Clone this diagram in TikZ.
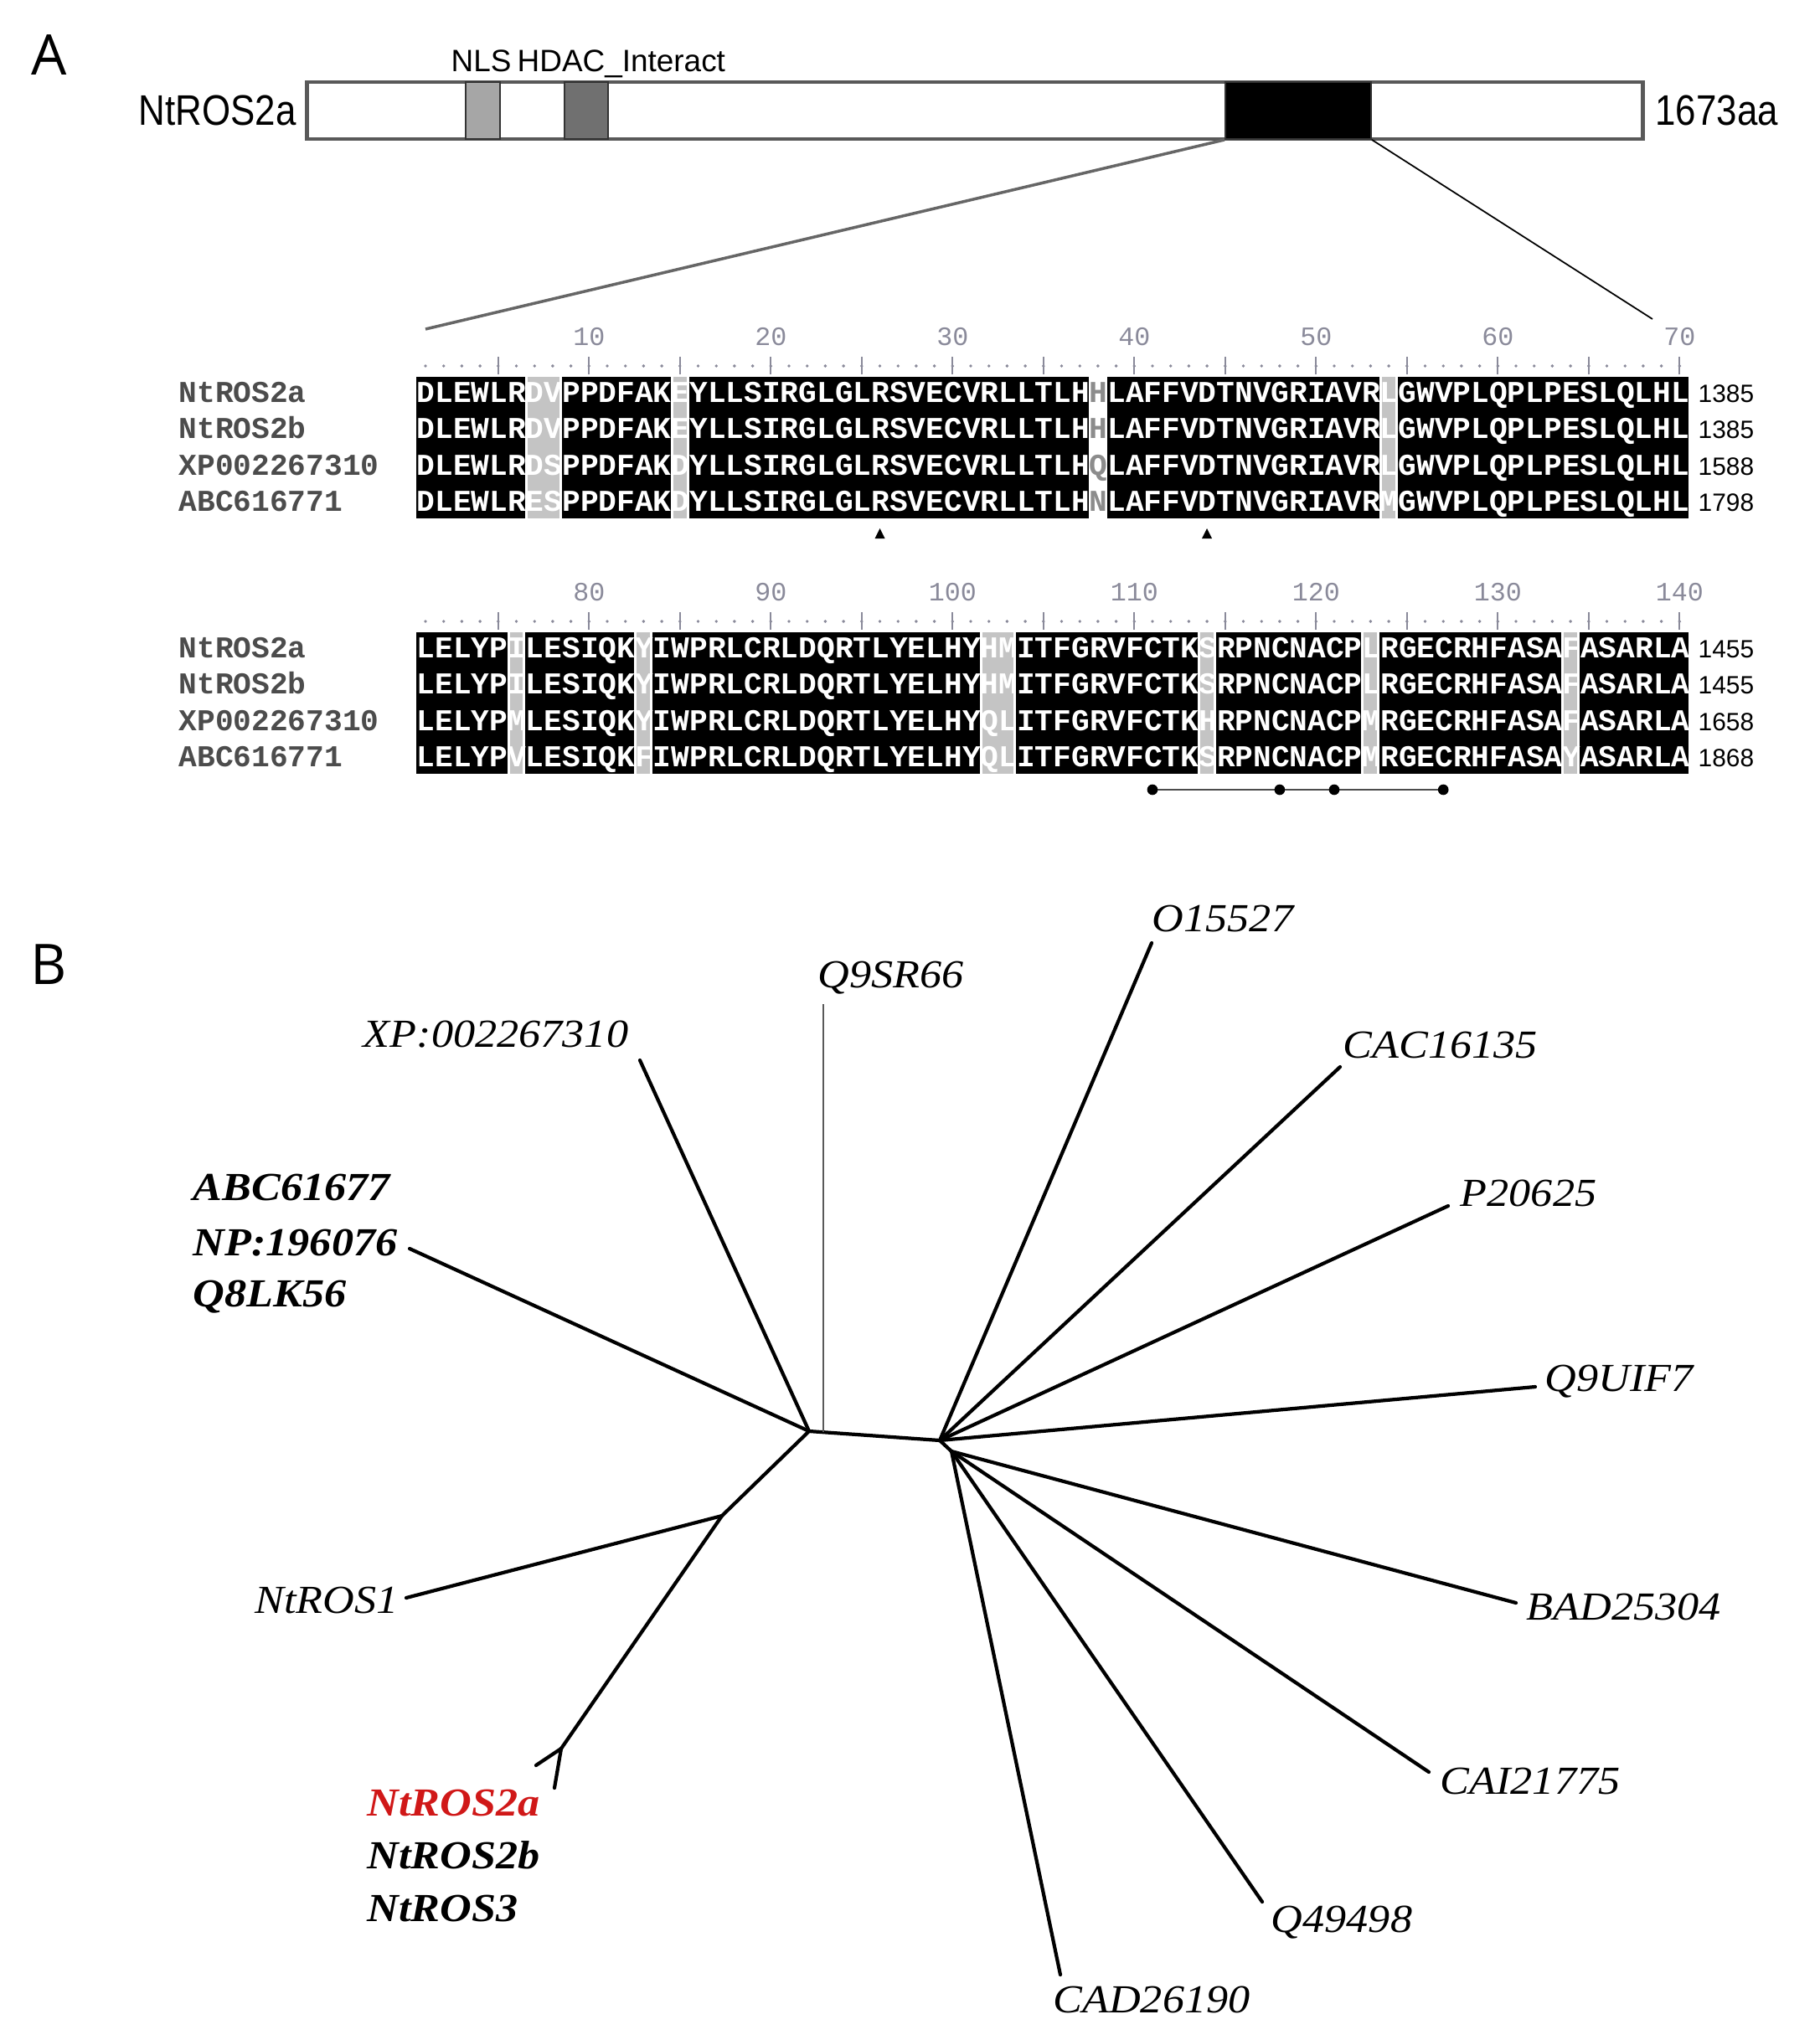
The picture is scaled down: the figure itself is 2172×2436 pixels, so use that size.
\documentclass[tikz,border=0pt]{standalone}
\usepackage{fontspec}
\setmainfont{Liberation Serif}
\newfontfamily\alnfont{Liberation Mono}
\newfontfamily\labsans{Liberation Sans}
\newfontfamily\narrowsans[FakeStretch=0.86]{Liberation Sans}
\newfontfamily\panelfont{Open Sans}
\newfontfamily\treefont[FakeStretch=1.1]{Liberation Serif}
\usepackage{tikz}
\usetikzlibrary{positioning}
\usepackage{xcolor}
\definecolor{shadegray}{HTML}{C4C4C4}
\definecolor{rulegray}{HTML}{8A8A9A}
\definecolor{nlsgray}{HTML}{A6A6A6}
\definecolor{hdacgray}{HTML}{707070}
\definecolor{ros2red}{HTML}{D01818}

\begin{document}
\begin{tikzpicture}[x=0.01cm, y=-0.01cm,
    panel/.style={font=\panelfont\fontsize{19}{22}\selectfont, inner sep=0},
    protbar/.style={draw=black!65, line width=1.3pt, fill=white, minimum height=0.68cm, inner sep=0},
    domainbox/.style={draw=black!80, line width=0.5pt, minimum height=0.68cm, inner sep=0},
    dlabel/.style={font=\labsans\fontsize{10.5}{12}\selectfont, inner sep=0, anchor=base west},
    pname/.style={font=\narrowsans\fontsize{14.5}{16}\selectfont, inner sep=0},
    rowname/.style={font=\alnfont\bfseries\fontsize{10.29}{12}\selectfont, text=black!70, inner sep=0, anchor=base west},
    seqtext/.style={font=\alnfont\bfseries\fontsize{10.29}{12}\selectfont, text=white, inner sep=0, anchor=base west},
    oddres/.style={font=\alnfont\bfseries\fontsize{10.29}{12}\selectfont, text=black!45, inner sep=0, anchor=base},
    endnum/.style={font=\labsans\fontsize{8.5}{10}\selectfont, inner sep=0, anchor=base west},
    rulenum/.style={font=\alnfont\fontsize{9}{10}\selectfont, text=rulegray, inner sep=0},
    branch/.style={line width=1.2pt, line cap=round},
    leaf/.style={font=\treefont\itshape\fontsize{13.5}{16}\selectfont, inner sep=0},
    boldleaf/.style={font=\treefont\bfseries\itshape\fontsize{13.5}{16}\selectfont, inner sep=0},
]
\useasboundingbox (0,0) rectangle (2172,2436);

% Panel letters
\node[panel] (pa) at (59,66) {A};
\node[panel] (pb) at (58,1152) {B};

% Protein
\node[protbar, minimum width=15.94cm] (bar) at (1164,132) {};
\node[domainbox, fill=nlsgray, minimum width=0.41cm] (nls) at (576.5,132) {};
\node[domainbox, fill=hdacgray, minimum width=0.52cm] (hdac) at (700,132) {};
\node[domainbox, fill=black, minimum width=1.74cm] (dna) at (1550,132) {};
\node[dlabel] (nlslab) at (538,85) {NLS};
\node[dlabel] (hdaclab) at (617,85) {HDAC\_Interact};
\node[pname, left=0.1cm of bar] (pnm) {NtROS2a};
\node[pname, right=0.12cm of bar] (plen) {1673aa};

% Zoom lines
\coordinate (zl) at (508,393);
\coordinate (zr) at (1973,381);
\draw[black!60, line width=1pt] (dna.south west) -- (zl);
\draw[black, line width=0.5pt] (dna.south east) -- (zr);

% Alignment shading
\foreach \a/\b in {1/6,9/14,16/37,39/53,55/70}
  \fill[black] ({497+(\a-1)*21.7},450) rectangle ({497+\b*21.7},619);
\foreach \a/\b in {7/8,15/15,54/54}
  \fill[shadegray] ({497+(\a-1)*21.7+3},450) rectangle ({497+\b*21.7-3},619);
\foreach \a/\b in {1/5,7/12,14/31,34/43,45/52,54/63,65/70}
  \fill[black] ({497+(\a-1)*21.7},755) rectangle ({497+\b*21.7},924);
\foreach \a/\b in {6/6,13/13,32/33,44/44,53/53,64/64}
  \fill[shadegray] ({497+(\a-1)*21.7+3},755) rectangle ({497+\b*21.7-3},924);

% Rulers
\foreach \yo/\first in {0/0,305/70} {
  \foreach \c in {1,...,70}
    \fill[rulegray] ({508+(\c-1)*21.7},{437+\yo}) circle[radius=0.55pt];
  \foreach \c in {5,10,...,70}
    \draw[rulegray, line width=0.55pt] ({508+(\c-1)*21.7},{426+\yo}) -- ({508+(\c-1)*21.7},{447+\yo});
  \foreach \c in {10,20,...,70} {
    \pgfmathtruncatemacro{\num}{\first+\c}
    \node[rulenum] (num\num) at ({508+(\c-1)*21.7},{402+\yo}) {\num};
  }
}

% Block 1
\foreach \nm/\sqa/\mid/\sqb/\len [count=\i] in {
    NtROS2a/DLEWLRDVPPDFAKEYLLSIRGLGLRSVECVRLLTLH/H/LAFFVDTNVGRIAVRLGWVPLQPLPESLQLHL/1385,
    NtROS2b/DLEWLRDVPPDFAKEYLLSIRGLGLRSVECVRLLTLH/H/LAFFVDTNVGRIAVRLGWVPLQPLPESLQLHL/1385,
    XP002267310/DLEWLRDSPPDFAKDYLLSIRGLGLRSVECVRLLTLH/Q/LAFFVDTNVGRIAVRLGWVPLQPLPESLQLHL/1588,
    ABC616771/DLEWLRESPPDFAKDYLLSIRGLGLRSVECVRLLTLH/N/LAFFVDTNVGRIAVRMGWVPLQPLPESLQLHL/1798} {
  \pgfmathsetmacro{\yb}{480+(\i-1)*43.5}
  \node[rowname] (na\i) at (213,\yb) {\nm};
  \node[seqtext] (sa\i) at (497,\yb) {\sqa};
  \node[oddres] (oa\i) at ({508+37*21.7},\yb) {\mid};
  \node[seqtext] (ta\i) at ({497+38*21.7},\yb) {\sqb};
  \node[endnum] (ea\i) at (2027,\yb) {\len};
}
\foreach \c in {26,44}
  \fill ({508+(\c-1)*21.7},631) -- ++(-6,12) -- ++(12,0) -- cycle;

% Block 2
\foreach \nm/\sq/\len [count=\i] in {
    NtROS2a/LELYPILESIQKYIWPRLCRLDQRTLYELHYHMITFGRVFCTKSRPNCNACPLRGECRHFASAFASARLA/1455,
    NtROS2b/LELYPILESIQKYIWPRLCRLDQRTLYELHYHMITFGRVFCTKSRPNCNACPLRGECRHFASAFASARLA/1455,
    XP002267310/LELYPMLESIQKYIWPRLCRLDQRTLYELHYQLITFGRVFCTKHRPNCNACPMRGECRHFASAFASARLA/1658,
    ABC616771/LELYPVLESIQKFIWPRLCRLDQRTLYELHYQLITFGRVFCTKSRPNCNACPMRGECRHFASAYASARLA/1868} {
  \pgfmathsetmacro{\yb}{785+(\i-1)*43.5}
  \node[rowname] (nb\i) at (213,\yb) {\nm};
  \node[seqtext] (sb\i) at (497,\yb) {\sq};
  \node[endnum] (eb\i) at (2027,\yb) {\len};
}
\foreach \c [count=\k] in {41,48,51,57}
  \coordinate (cy\k) at ({508+(\c-1)*21.7},943);
\draw[black!70, line width=0.7pt] (cy1) -- (cy4);
\foreach \k in {1,...,4}
  \fill (cy\k) circle[radius=1.8pt];

% Tree: inner nodes
\coordinate (hL) at (966,1709);
\coordinate (hQ) at (983,1710);
\coordinate (hR) at (1122,1720);
\coordinate (hR2) at (1136,1733);
\coordinate (nA) at (862,1810);
\coordinate (nB) at (670,2088);

% Tree: tips
\coordinate (tXP) at (764,1266);
\coordinate (tAB) at (489,1491);
\coordinate (tQ9) at (983,1199);
\coordinate (tR1) at (485,1908);
\coordinate (t2a) at (640,2108);
\coordinate (t2b) at (662,2135);
\coordinate (tO1) at (1375,1126);
\coordinate (tCA) at (1600,1274);
\coordinate (tP2) at (1729,1440);
\coordinate (tQU) at (1833,1656);
\coordinate (tBA) at (1810,1914);
\coordinate (tCI) at (1706,2116);
\coordinate (tQ4) at (1507,2271);
\coordinate (tCD) at (1266,2358);

% Tree: branches
\draw[branch] (hL) -- (hR);
\draw[line width=0.7pt, black!65] (hQ) -- (tQ9);
\draw[branch] (hL) -- (tXP);
\draw[branch] (hL) -- (tAB);
\draw[branch] (hL) -- (nA) -- (nB);
\draw[branch] (nA) -- (tR1);
\draw[branch] (nB) -- (t2a);
\draw[branch] (nB) -- (t2b);
\draw[branch] (hR) -- (tO1);
\draw[branch] (hR) -- (tCA);
\draw[branch] (hR) -- (tP2);
\draw[branch] (hR) -- (tQU);
\draw[branch] (hR) -- (hR2);
\draw[branch] (hR2) -- (tBA);
\draw[branch] (hR2) -- (tCI);
\draw[branch] (hR2) -- (tQ4);
\draw[branch] (hR2) -- (tCD);

% Tree: labels
\node[leaf] (lXP) at (592,1235) {XP:002267310};
\node[boldleaf, anchor=west] (lAB1) at (230,1418) {ABC61677};
\node[boldleaf, anchor=west] (lAB2) at (230,1484) {NP:196076};
\node[boldleaf, anchor=west] (lAB3) at (230,1549) {Q8LK56};
\node[leaf] (lQ9) at (1064,1168) {Q9SR66};
\node[leaf] (lR1) at (390,1911) {NtROS1};
\node[boldleaf, anchor=west, text=ros2red] (l2a) at (438,2153) {NtROS2a};
\node[boldleaf, anchor=west] (l2b) at (438,2215) {NtROS2b};
\node[boldleaf, anchor=west] (l3) at (438,2279) {NtROS3};
\node[leaf] (lO1) at (1460,1097) {O15527};
\node[leaf] (lCA) at (1720,1248) {CAC16135};
\node[leaf] (lP2) at (1825,1425) {P20625};
\node[leaf] (lQU) at (1933,1650) {Q9UIF7};
\node[leaf] (lBA) at (1939,1919) {BAD25304};
\node[leaf] (lCI) at (1827,2127) {CAI21775};
\node[leaf] (lQ4) at (1602,2296) {Q49498};
\node[leaf] (lCD) at (1375,2388) {CAD26190};

\end{tikzpicture}
\end{document}
